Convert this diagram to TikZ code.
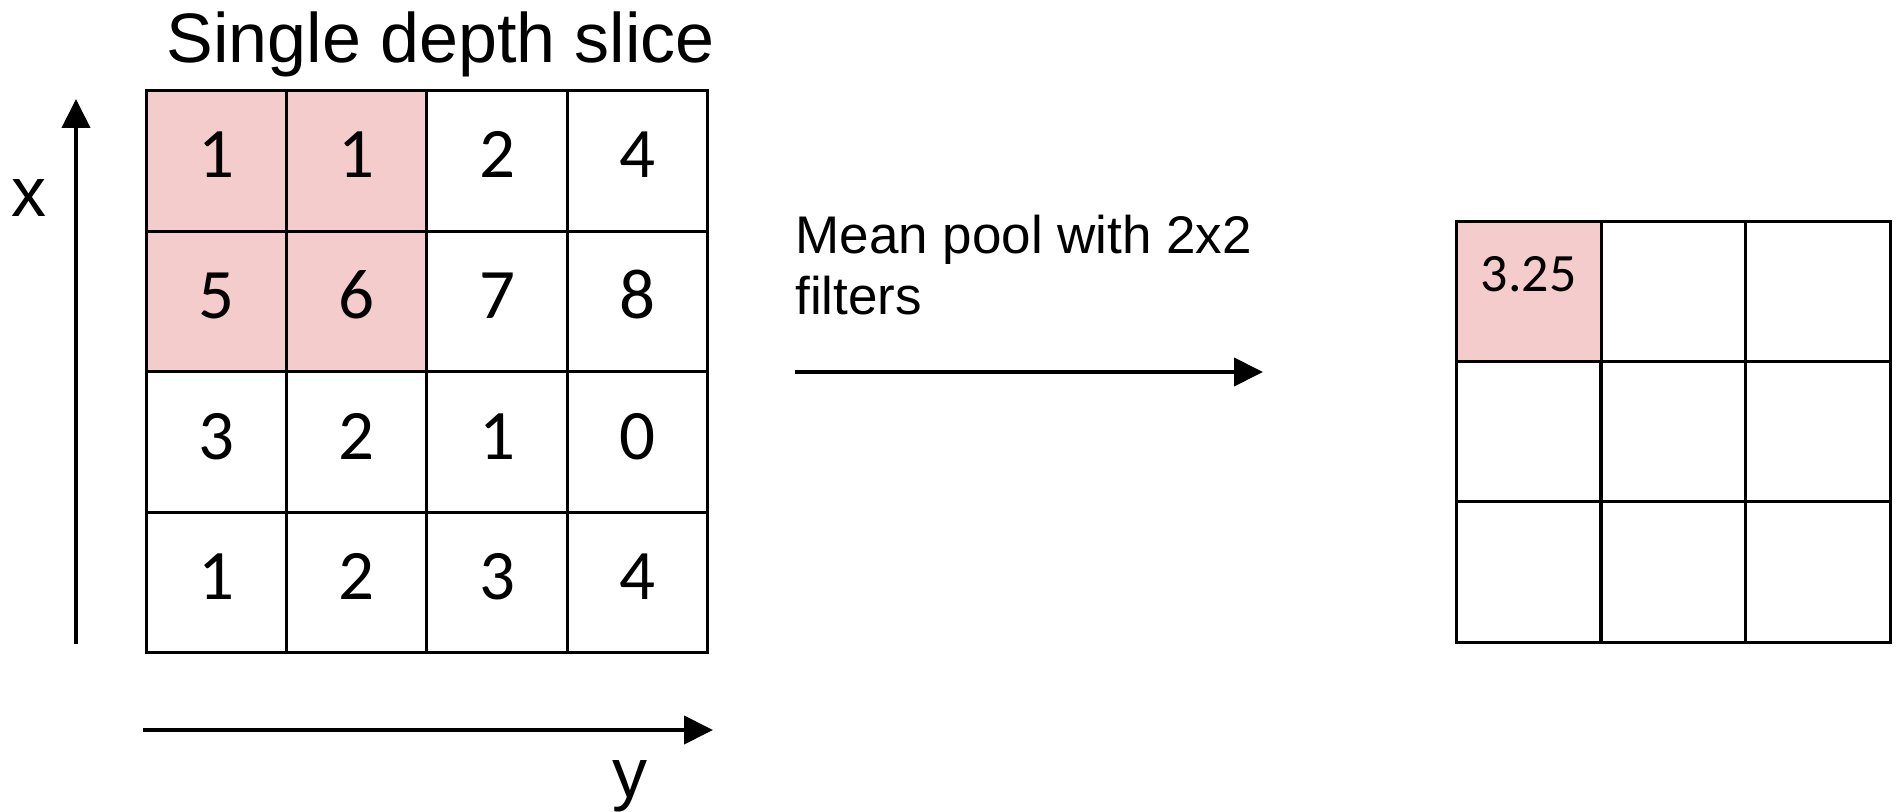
\documentclass[tikz,border=0pt]{standalone}
\usepackage{fontspec}
\setmainfont{Liberation Sans}
\newfontfamily\carl{Carlito}
\usetikzlibrary{arrows.meta}
\definecolor{pinkcell}{RGB}{244,204,204}
\begin{document}
\begin{tikzpicture}[x=0.5pt,y=-0.5pt,
  lcell/.style={draw=black,line width=1.5pt,minimum width=70.15pt,minimum height=70.2pt,inner sep=0pt,
     font=\carl\fontsize{35.5}{40}\selectfont,text height=17pt,text depth=0pt},
  rcell/.style={draw=black,line width=1.5pt,minimum width=72.5pt,minimum height=70pt,inner sep=0pt,
     font=\carl\fontsize{27}{32}\selectfont,text height=0pt,text depth=0pt},
  hl/.style={fill=pinkcell},
  arr/.style={line width=2pt,-{Triangle[length=14.5pt,width=14pt]}},
  bigtxt/.style={font=\fontsize{35}{42}\selectfont,inner sep=0pt},
  midtxt/.style={font=\fontsize{26.5}{31.5}\selectfont,inner sep=0pt}]
\useasboundingbox (0,0) rectangle (1896,812);
% title
\node[bigtxt,anchor=base west] (title) at (166,63) {Single depth slice};
% left grid
\foreach \r/\row in {0/{1,1,2,4},1/{5,6,7,8},2/{3,2,1,0},3/{1,2,3,4}} {
  \foreach \v [count=\c from 0] in \row {
    \pgfmathsetmacro{\hlq}{(\r<2 && \c<2) ? 1 : 0}
    \ifdim\hlq pt>0.5pt
      \node[lcell,hl] (L-\r-\c) at ({216.45+140.27*\c},{160.9+140.57*\r}) {\v};
    \else
      \node[lcell] (L-\r-\c) at ({216.45+140.27*\c},{160.9+140.57*\r}) {\v};
    \fi
  }
}
% axes
\coordinate (vs) at (76,644);
\coordinate (ve) at (76,99);
\draw[arr] (vs) -- (ve);
\node[bigtxt,anchor=base] (xl) at (29,217) {x};
\coordinate (hs) at (143,730);
\coordinate (he) at (713,730);
\draw[arr] (hs) -- (he);
\node[bigtxt,anchor=base] (yl) at (630,797) {y};
% middle
\node[midtxt,anchor=base west] (m1) at (795,254) {Mean pool with 2x2};
\node[midtxt,anchor=base west] (m2) at (795,315) {filters};
\coordinate (ms) at (795,372);
\coordinate (me) at (1263,372);
\draw[arr] (ms) -- (me);
% right grid
\foreach \r in {0,1,2} {
  \foreach \c in {0,1,2} {
    \node[rcell] (R-\r-\c) at ({1528.5+144.8*\c},{292+140*\r}) {};
  }
}
\node[rcell,hl] (R00) at (1528.5,292) {3.25};
\end{tikzpicture}
\end{document}
